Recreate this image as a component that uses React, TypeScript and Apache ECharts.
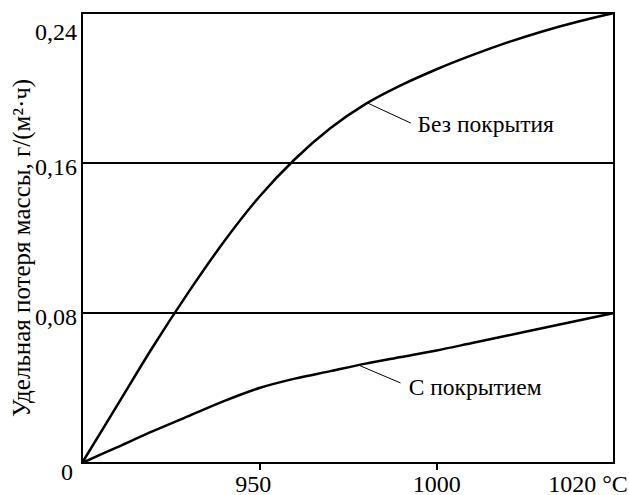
import React, { useEffect, useRef } from "react";
import * as echarts from "echarts";

const temps = [900, 910, 920, 930, 940, 950, 960, 970, 980, 990, 1000, 1010, 1020, 1030, 1040, 1050];
const uncoated = [0, 0.031, 0.062, 0.091, 0.118, 0.142, 0.162, 0.1785, 0.1915, 0.2015, 0.21, 0.2175, 0.2243, 0.2303, 0.2355, 0.24];
const coated = [0, 0.0085, 0.017, 0.025, 0.033, 0.04, 0.045, 0.049, 0.053, 0.0565, 0.06, 0.064, 0.068, 0.072, 0.076, 0.08];

const xTickValues = [950, 1000];
const xLabelValues = [950, 1000, 1050];
const xLabelTexts: Record<number, string> = { 950: "950", 1000: "1000", 1050: "1020 °C" };

const yAxisTitle = "Удельная потеря массы, г/(м²·ч)";
const labelUncoated = "Без покрытия";
const labelCoated = "С покрытием";

// leader lines: [curve point, label end point] in data space
const leaderUncoated = [[980.5, 0.192], [992.7, 0.1813]];
const leaderCoated = [[978, 0.0522], [989.8, 0.0427]];
const labelUncoatedAnchor = [994.6, 0.181];
const labelCoatedAnchor = [992.1, 0.0405];

const FONT = "'Liberation Serif', 'Times New Roman', serif";
const FS = 24;

export default function App() {
  const ref = useRef<HTMLDivElement>(null);
  useEffect(() => {
    document.body.style.margin = "0";
    if (!ref.current) return;
    const chart = echarts.init(ref.current, undefined, { renderer: "svg" });
    const base: any = {
      animation: false,
      backgroundColor: "#fff",
      textStyle: { fontFamily: FONT },
      grid: {
        left: 82,
        right: 15,
        top: 13,
        bottom: 32,
        show: true,
        borderColor: "#000",
        borderWidth: 2,
        outerBoundsMode: "none",
      },
      xAxis: {
        type: "value",
        min: 900,
        max: 1050,
        interval: 50,
        axisLine: { show: true, lineStyle: { color: "#000", width: 2 } },
        axisTick: {
          show: true,
          length: 7,
          customValues: xTickValues,
          lineStyle: { color: "#000", width: 2 },
        },
        splitLine: { show: false },
        axisLabel: {
          customValues: xLabelValues,
          margin: 12,
          color: "#000",
          fontFamily: FONT,
          fontSize: FS,
          lineHeight: 18,
          formatter: (v: number) =>
            v === 1050 ? `{r|${xLabelTexts[v]}}` : v === 950 ? `{n|${xLabelTexts[v]}}` : `{m|${xLabelTexts[v] ?? v}}`,
          rich: {
            n: { fontFamily: FONT, fontSize: FS, lineHeight: 18, color: "#000", padding: [0, 12, 0, 0] },
            m: { fontFamily: FONT, fontSize: FS, lineHeight: 18, color: "#000" },
            r: { fontFamily: FONT, fontSize: FS, lineHeight: 18, color: "#000", padding: [0, 52, 0, 0] },
          },
        },
      },
      yAxis: {
        type: "value",
        min: 0,
        max: 0.24,
        interval: 0.08,
        name: yAxisTitle,
        nameLocation: "middle",
        nameGap: 48,
        nameMoveOverlap: false,
        nameTextStyle: { color: "#000", fontFamily: FONT, fontSize: 25, padding: [0, 20, 0, 0] },
        axisLine: { show: true, lineStyle: { color: "#000", width: 2 } },
        axisTick: { show: false },
        splitLine: { show: true, lineStyle: { color: "#000", width: 2 } },
        axisLabel: {
          margin: 5,
          color: "#000",
          fontFamily: FONT,
          fontSize: FS,
          formatter: (v: number) => {
            if (v === 0) return "{z|0}";
            const s = v.toFixed(2).replace(".", ",");
            return Math.abs(v - 0.24) < 1e-9 ? `{b|${s}}` : `{a|${s}}`;
          },
          rich: {
            a: { fontFamily: FONT, fontSize: FS, color: "#000", padding: [8, 0, 0, 0] },
            b: { fontFamily: FONT, fontSize: FS, color: "#000", padding: [38, 0, 0, 0] },
            z: { fontFamily: FONT, fontSize: FS, color: "#000", padding: [18, 4, 0, 0] },
          },
        },
      },
      series: [
        {
          name: labelUncoated,
          type: "line",
          data: temps.map((t, i) => [t, uncoated[i]]),
          smooth: 0.3,
          showSymbol: false,
          lineStyle: { color: "#000", width: 2.5 },
          markLine: {
            silent: true,
            symbol: "none",
            label: { show: false },
            lineStyle: { color: "#000", width: 1, type: "solid" },
            data: [[{ coord: leaderUncoated[0] }, { coord: leaderUncoated[1] }]],
          },
        },
        {
          name: labelCoated,
          type: "line",
          data: temps.map((t, i) => [t, coated[i]]),
          smooth: 0.3,
          showSymbol: false,
          lineStyle: { color: "#000", width: 2.5 },
          markLine: {
            silent: true,
            symbol: "none",
            label: { show: false },
            lineStyle: { color: "#000", width: 1, type: "solid" },
            data: [[{ coord: leaderCoated[0] }, { coord: leaderCoated[1] }]],
          },
        },
      ],
    };
    chart.setOption(base);
    const p1 = chart.convertToPixel({ gridIndex: 0 }, labelUncoatedAnchor) as number[];
    const p2 = chart.convertToPixel({ gridIndex: 0 }, labelCoatedAnchor) as number[];
    chart.setOption({
      graphic: [
        {
          type: "text",
          x: p1[0],
          y: p1[1],
          style: { text: labelUncoated, fontFamily: FONT, fontSize: 23.5, fill: "#000", verticalAlign: "middle", align: "left" },
        },
        {
          type: "text",
          x: p2[0],
          y: p2[1],
          style: { text: labelCoated, fontFamily: FONT, fontSize: 23.5, fill: "#000", verticalAlign: "middle", align: "left" },
        },
      ],
    });
    return () => chart.dispose();
  }, []);
  return <div ref={ref} style={{ width: 629, height: 495 }} />;
}
